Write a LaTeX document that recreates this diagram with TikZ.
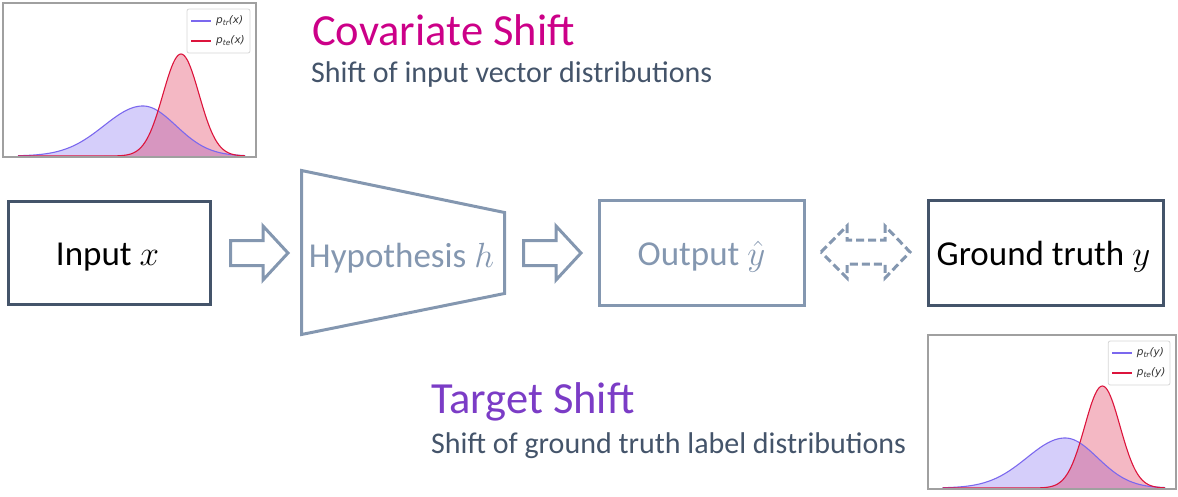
\RequirePackage{fix-cm}
\documentclass[tikz,border=0pt]{standalone}
\usepackage{fontspec}
\setmainfont{Carlito}
\newfontfamily\djv{DejaVu Sans}
\usetikzlibrary{calc}
\definecolor{txtdark}{HTML}{44546A}
\definecolor{txtlight}{HTML}{8497B0}
\definecolor{covcol}{HTML}{CC0088}
\definecolor{tgtcol}{HTML}{7B3CC6}
\definecolor{trcol}{HTML}{7B68EE}
\definecolor{tecol}{HTML}{DC143C}
\definecolor{framegray}{HTML}{A0A0A0}
\definecolor{leggray}{HTML}{D6D6D6}

\newcommand\legtxt[2]{{\djv\fontsize{10.5}{12}\selectfont\itshape p\raisebox{-0.35ex}{\fontsize{7.5}{8}\selectfont #1}(#2)}}

\newcommand\distplot[2]{%
  \fill[trcol, fill opacity=0.32]
    plot[domain=18:143, samples=70] (\x,{156-50*exp(-0.5*((\x-143)/39)^2)})
    -- plot[domain=143:245, samples=60] (\x,{156-50*exp(-0.5*((\x-143)/33)^2)})
    -- (245,156) -- (18,156) -- cycle;
  \fill[tecol, fill opacity=0.3]
    plot[domain=18:245, samples=150] (\x,{156-102*exp(-0.5*((\x-181)/18)^2)})
    -- (245,156) -- (18,156) -- cycle;
  \draw[trcol, line width=1.1pt]
    plot[domain=18:143, samples=70] (\x,{156-50*exp(-0.5*((\x-143)/39)^2)})
    -- plot[domain=143:245, samples=60] (\x,{156-50*exp(-0.5*((\x-143)/33)^2)});
  \draw[tecol, line width=1.1pt]
    plot[domain=18:245, samples=150] (\x,{156-102*exp(-0.5*((\x-181)/18)^2)});
  \draw[framegray, line width=1.3pt] (3,3) rectangle (256,157);
  \draw[leggray, fill=white, rounded corners=2pt, line width=0.8pt] (187,9) rectangle (250,53);
  \draw[trcol, line width=1.1pt] (191,21) -- (211,21);
  \draw[tecol, line width=1.1pt] (191,41) -- (211,41);
  \node[anchor=west, inner sep=0pt, text=black!80] (ltr#2) at (216,21) {\legtxt{tr}{#1}};
  \node[anchor=west, inner sep=0pt, text=black!80] (lte#2) at (216,41) {\legtxt{te}{#1}};
}

\tikzset{
  darkbox/.style={draw=txtdark, line width=3pt, inner sep=0pt},
  lightbox/.style={draw=txtlight, line width=3pt, inner sep=0pt},
  lbl/.style={font=\fontsize{35}{40}\selectfont, anchor=base, inner sep=0pt},
  blk/.style={draw=txtlight, line width=3pt, line join=miter},
  dblk/.style={draw=txtlight, line width=3pt, line join=miter, dash pattern=on 8pt off 4pt},
  title/.style={font=\fontsize{44.5}{50}\selectfont, anchor=base west, inner sep=0pt},
  subt/.style={font=\fontsize{30}{36}\selectfont, text=txtdark, anchor=base west, inner sep=0pt},
}

\newcommand\blockarrow[2]{%
  \draw[blk] ($(#1)+(0,-12.5)$) -- ($(#2)+(-25,-12.5)$) -- ($(#2)+(-25,-27)$) -- (#2)
    -- ($(#2)+(-25,27)$) -- ($(#2)+(-25,12.5)$) -- ($(#1)+(0,12.5)$) -- cycle;}

\begin{document}
\begin{tikzpicture}[x=1pt,y=-1pt]
\useasboundingbox (0,0) rectangle (1178,496);

% distribution plots
\begin{scope}
  \distplot{x}{a}
\end{scope}
\begin{scope}[shift={(925,332)}, xscale=0.98]
  \distplot{y}{b}
\end{scope}

% titles
\node[title, text=covcol] (covt) at (312,45) {Covariate Shift};
\node[subt] (covs) at (311,82) {Shift of input vector distributions};
\node[title, text=tgtcol] (tgtt) at (431,413) {Target Shift};
\node[subt] (tgts) at (431,453) {Shift of ground truth label distributions};

% boxes
\node[darkbox, minimum width=202pt, minimum height=103pt] (inbox) at (109.5,253) {};
\node[lbl] (inlbl) at (107.5,265) {Input $x$};

\draw[blk] (301.5,170.5) -- (504.5,212.5) -- (504.5,293.5) -- (301.5,334.5) -- cycle;
\node[lbl, text=txtlight] (hyp) at (401.5,267) {Hypothesis $h$};

\node[lightbox, minimum width=205pt, minimum height=105pt] (outbox) at (702,253) {};
\node[lbl, text=txtlight] (outlbl) at (701.5,265) {Output $\hat{y}$};

\node[darkbox, minimum width=235pt, minimum height=105pt] (gtbox) at (1046,253) {};
\node[lbl] (gtlbl) at (1043.5,265) {Ground truth $y$};

% block arrows
\coordinate (a1s) at (230.5,253);
\coordinate (a1e) at (288,253);
\blockarrow{a1s}{a1e}
\coordinate (a2s) at (523.5,253);
\coordinate (a2e) at (581,253);
\blockarrow{a2s}{a2e}

% dashed double arrow
\coordinate (dm) at (865.5,252);
\draw[dblk] ($(dm)+(-44.5,0)$) -- ($(dm)+(-18.5,-26)$) -- ($(dm)+(-18.5,-12)$) -- ($(dm)+(19.5,-12)$)
  -- ($(dm)+(19.5,-26)$) -- ($(dm)+(44.5,0)$) -- ($(dm)+(19.5,26)$) -- ($(dm)+(19.5,12)$)
  -- ($(dm)+(-18.5,12)$) -- ($(dm)+(-18.5,26)$) -- cycle;
\end{tikzpicture}
\end{document}
